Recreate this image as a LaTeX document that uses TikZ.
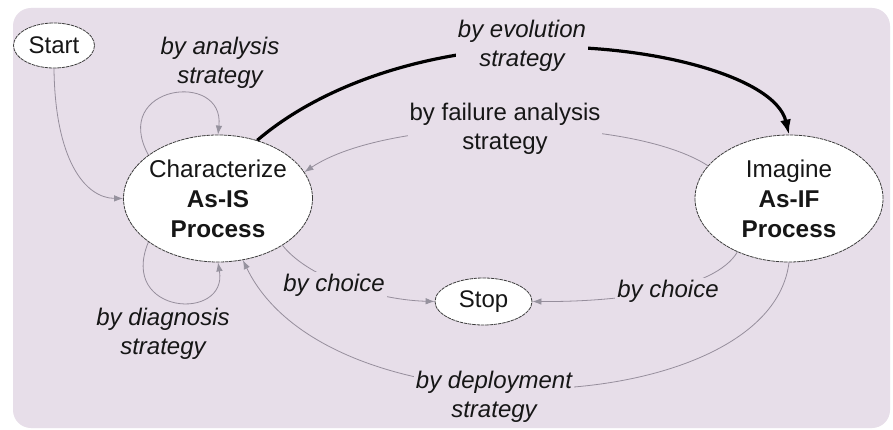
\documentclass[tikz,border=0pt]{standalone}
\usepackage{fontspec}
\setmainfont{Liberation Sans}
\usetikzlibrary{shapes.geometric,arrows.meta}
\definecolor{bgc}{RGB}{231,222,233}
\definecolor{edgec}{RGB}{150,142,156}
\definecolor{tipc}{RGB}{150,146,158}
\definecolor{txtc}{RGB}{22,22,22}
\definecolor{bordc}{RGB}{60,60,60}
\tikzset{
  procnode/.style={ellipse, draw=bordc, line width=0.8pt, dash pattern=on 3.5pt off 0.8pt,
    fill=white, inner xsep=-6pt, inner ysep=0pt, align=center,
    minimum width=189pt, minimum height=127pt,
    font=\fontsize{24.3}{30}\selectfont, text=txtc},
  termnode/.style={ellipse, draw=bordc, line width=0.8pt, dash pattern=on 3.5pt off 0.8pt,
    fill=white, inner sep=0pt, font=\fontsize{24}{28}\selectfont, text=txtc},
  lbl/.style={font=\fontsize{24}{29}\selectfont\itshape, align=center,
    fill=bgc, inner sep=2pt, text=txtc},
  lblup/.style={lbl, font=\fontsize{24}{29}\selectfont},
  flow/.style={draw=edgec, line width=0.8pt, -{Latex[length=9pt,width=6.5pt,color=tipc]}},
  evoflow/.style={draw=black, line width=3.2pt, -{Latex[length=15pt,width=11pt]}}
}
\begin{document}
\begin{tikzpicture}[x=1pt,y=-1pt]
\useasboundingbox (0,0) rectangle (893,430);
\fill[white] (0,0) rectangle (893,430);
\fill[bgc, rounded corners=18pt] (13,8) rectangle (890,428);

% nodes
\node[termnode, minimum width=81pt, minimum height=45pt] (start) at (54,45.5) {Start};
\node[procnode] (char) at (218,198.5) {Characterize\\\textbf{As-IS}\\\textbf{Process}};
\node[procnode, minimum width=188pt] (imag) at (789,198.5) {Imagine\\\textbf{As-IF}\\\textbf{Process}};
\node[termnode, minimum width=97pt, minimum height=47pt] (stop) at (483.5,301.5) {Stop};

% connectors
\draw[flow] (start.south) .. controls (55,160) and (85,198) .. (char.west);
\draw[flow] (char.148) .. controls (110,85) and (225,70) .. (char.north);
\draw[flow] (char.212) .. controls (118,315) and (228,322) .. (char.south);
\draw[evoflow] (char.56) .. controls (310,95) and (400,55) .. (520,48)
   .. controls (640,41) and (775,75) .. (imag.north);
\draw[flow] (imag.158) .. controls (630,115) and (390,115) .. (char.17);
\draw[flow] (char.-36) .. controls (310,280) and (380,300) .. (stop.west);
\draw[flow] (imag.226) .. controls (715,290) and (620,302) .. (stop.east);
\draw[flow] (imag.south) .. controls (770,420) and (330,440) .. (char.292);

% labels
\node[lbl, fill=none] (lanalysis) at (220,63) {by analysis\\strategy};
\node[lbl] (levo) at (522,46) {by evolution\\strategy};
\node[lblup] (lfail) at (505,129) {by failure analysis\\strategy};
\node[lbl] (lchoiceL) at (334,285) {by choice};
\node[lbl] (lchoiceR) at (668,291) {by choice};
\node[lbl, fill=none] (ldiag) at (163,334) {by diagnosis\\strategy};
\node[lbl] (ldeploy) at (494,397) {by deployment\\strategy};
\end{tikzpicture}
\end{document}
